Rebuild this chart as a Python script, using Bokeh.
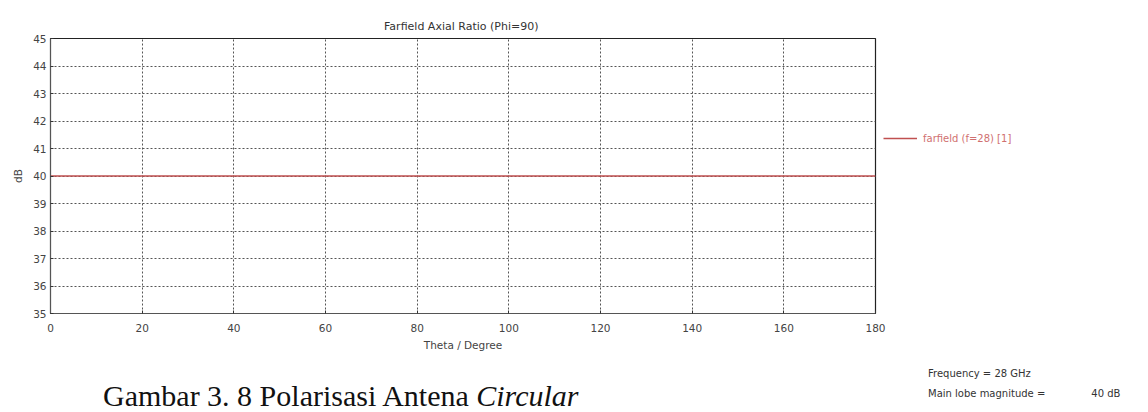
from bokeh.plotting import figure
from bokeh.models import Range1d, FixedTicker, Legend, LegendItem, Div
from bokeh.layouts import column, row
from bokeh.embed import file_html
from bokeh.resources import INLINE

theta = [0, 20, 40, 60, 80, 100, 120, 140, 160, 180]
axial_ratio = [40, 40, 40, 40, 40, 40, 40, 40, 40, 40]
x_ticks = [0, 20, 40, 60, 80, 100, 120, 140, 160, 180]
y_ticks = [35, 36, 37, 38, 39, 40, 41, 42, 43, 44, 45]
legend_label = "farfield (f=28) [1]"
title_text = "Farfield  Axial Ratio (Phi=90)"
freq_text = "Frequency = 28 GHz"
lobe_text = "Main lobe magnitude ="
lobe_value = "40 dB"
caption = "Gambar 3. 8 Polarisasi Antena "
caption_it = "Circular"

FONT = "DejaVu Sans"
GREY = "#444444"

p = figure(frame_width=825, frame_height=275, output_backend="svg",
           toolbar_location=None,
           x_range=Range1d(0, 180), y_range=Range1d(35, 45),
           min_border_left=50, min_border_right=273, min_border_top=38,
           min_border_bottom=47, title=title_text)
p.title.align = "center"
p.title.text_font = FONT
p.title.text_font_size = "11px"
p.title.text_font_style = "normal"
p.title.text_color = "#333333"
p.title.offset = 0
p.title.standoff = 12
p.outline_line_color = "#222222"
p.outline_line_width = 1.2

for ax in (p.xaxis, p.yaxis):
    ax.axis_line_color = "#555555"
    ax.major_tick_line_color = "#333333"
    ax.major_tick_out = 0
    ax.major_tick_in = 3
    ax.minor_tick_line_color = None
    ax.major_label_text_font = FONT
    ax.major_label_text_font_size = "10.5px"
    ax.major_label_text_color = GREY
    ax.axis_label_text_font = FONT
    ax.axis_label_text_font_size = "10.5px"
    ax.axis_label_text_font_style = "normal"
    ax.axis_label_text_color = GREY

p.xaxis.ticker = FixedTicker(ticks=x_ticks)
p.yaxis.ticker = FixedTicker(ticks=y_ticks)
p.xaxis.major_label_standoff = 10
p.yaxis.major_label_standoff = 4
p.xaxis.axis_label = "Theta / Degree"
p.xaxis.axis_label_standoff = 4
p.yaxis.axis_label = "dB"
p.yaxis.axis_label_standoff = 6

for g in (p.xgrid, p.ygrid):
    g.grid_line_color = "#555555"
    g.grid_line_dash = "2 2"
    g.grid_line_width = 1
p.xgrid.ticker = FixedTicker(ticks=x_ticks)
p.ygrid.ticker = FixedTicker(ticks=y_ticks)

r = p.line(theta, axial_ratio, line_color="#c05050", line_width=1.5)

legend = Legend(items=[LegendItem(label=legend_label, renderers=[r])],
                location=(8, 165), border_line_color=None,
                background_fill_alpha=0, label_text_font=FONT,
                label_text_font_size="10px", label_text_color="#d07070",
                glyph_width=34, label_standoff=6)
p.add_layout(legend, "right")

cap = Div(text=f"{caption}<i>{caption_it}</i>", width=875, height=52,
          styles={"font-family": "Liberation Serif", "font-size": "30px",
                  "color": "#111111", "padding-left": "98px",
                  "padding-top": "10px", "white-space": "nowrap"})
info = Div(text=(f"<div>{freq_text}</div>"
                 f"<div style='margin-top:6px'>{lobe_text}"
                 f"<span style='margin-left:46px'>{lobe_value}</span></div>"),
           width=273, height=52,
           styles={"font-family": FONT, "font-size": "10px",
                   "color": "#333333", "padding-left": "38px",
                   "padding-top": "2px", "white-space": "nowrap"})

layout = column(p, row(cap, info, spacing=0), spacing=0)
open("out.html", "w").write(file_html(layout, INLINE))
